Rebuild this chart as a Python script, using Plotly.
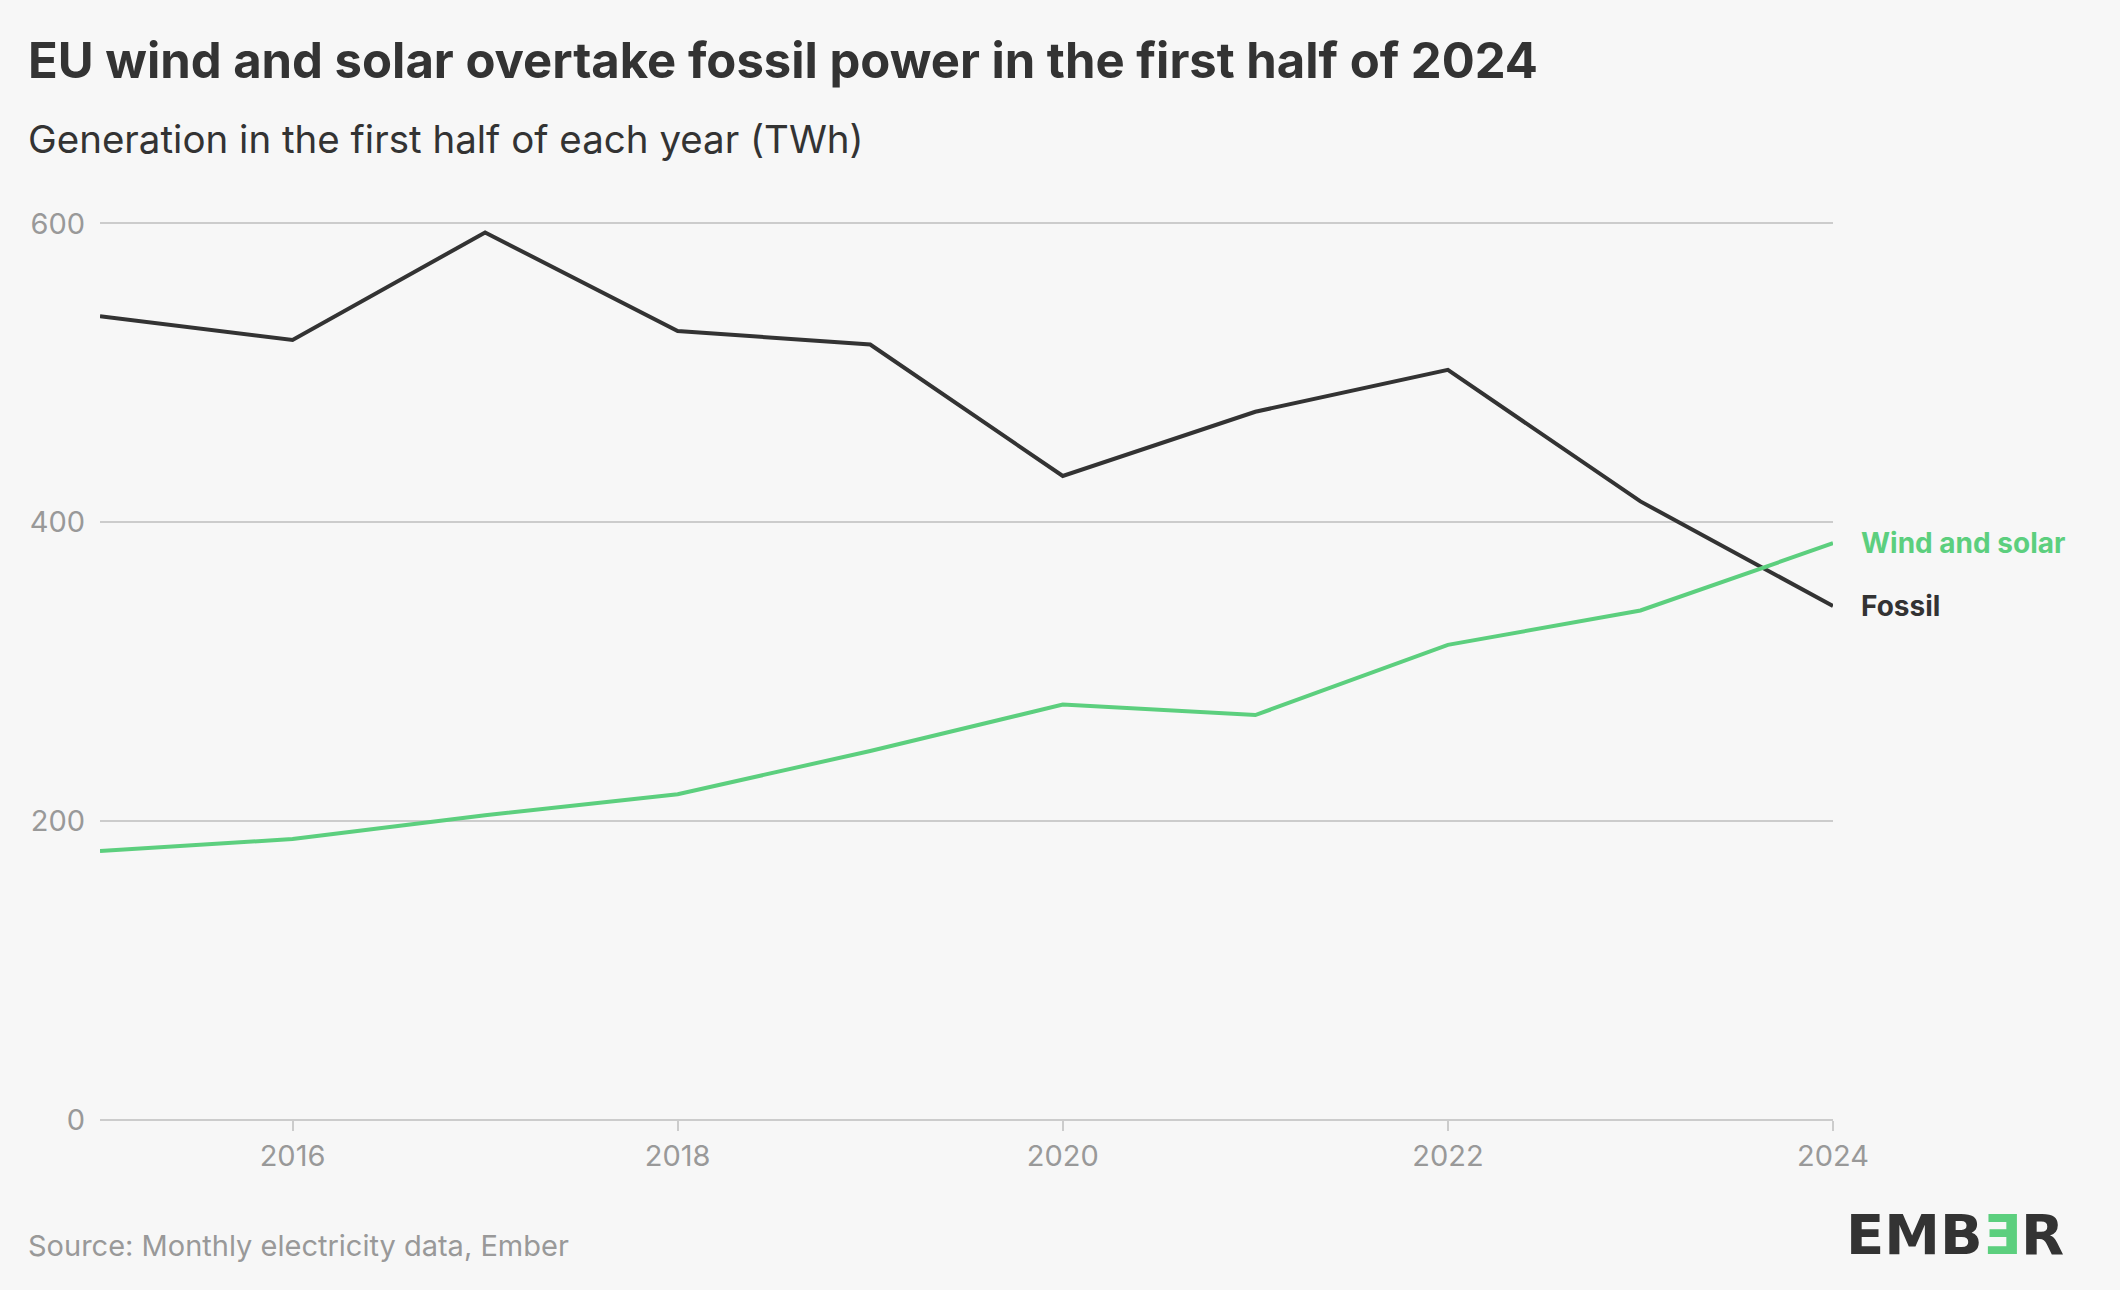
import plotly.graph_objects as go

years = [2015, 2016, 2017, 2018, 2019, 2020, 2021, 2022, 2023, 2024]
fossil = [538, 522, 594, 528, 519, 431, 474, 502, 414, 344]
wind_solar = [180, 188, 204, 218, 247, 278, 271, 318, 341, 386]
y_ticks = [0, 200, 400, 600]
x_ticks = [2016, 2018, 2020, 2022, 2024]

FOSSIL_C = "#333333"
GREEN_C = "#5ccf7e"
GRAY_T = "#999999"
BG = "#f7f7f7"
FONT = "Inter"

fig = go.Figure()
fig.add_trace(go.Scatter(x=years, y=fossil, mode="lines", name="Fossil",
                         line=dict(color=FOSSIL_C, width=4), hoverinfo="skip"))
fig.add_trace(go.Scatter(x=years, y=wind_solar, mode="lines", name="Wind and solar",
                         line=dict(color=GREEN_C, width=4), hoverinfo="skip"))

fig.update_layout(
    width=2120, height=1290,
    paper_bgcolor=BG, plot_bgcolor=BG,
    margin=dict(l=100, r=287, t=222, b=170),
    showlegend=False,
    font=dict(family=FONT, color=FOSSIL_C),
    xaxis=dict(range=[2015, 2024], tickvals=x_ticks, showgrid=False, zeroline=False,
               showline=False, ticks="outside", ticklen=10, tickwidth=2, tickcolor="#cccccc",
               tickfont=dict(size=29, color=GRAY_T, family=FONT)),
    yaxis=dict(range=[0, 601], tickvals=y_ticks, showgrid=True, gridcolor="#cccccc",
               gridwidth=2, zeroline=True, zerolinecolor="#cccccc", zerolinewidth=2,
               showline=False, ticks="", ticklabelstandoff=14,
               tickfont=dict(size=29, color=GRAY_T, family=FONT)),
)

fig.add_annotation(text="<b>EU wind and solar overtake fossil power in the first half of 2024</b>",
                   xref="paper", yref="paper", x=-100/1733, y=1 + (222 - 60) / 898,
                   xanchor="left", yanchor="middle", showarrow=False,
                   font=dict(size=49, color=FOSSIL_C, family=FONT), xshift=26)
fig.add_annotation(text="Generation in the first half of each year (TWh)",
                   xref="paper", yref="paper", x=-100/1733, y=1 + (222 - 139) / 898,
                   xanchor="left", yanchor="middle", showarrow=False,
                   font=dict(size=38.5, color=FOSSIL_C, family=FONT), xshift=26)
fig.add_annotation(text="Source: Monthly electricity data, Ember",
                   xref="paper", yref="paper", x=-100/1733, y=-(1245 - 1120) / 898,
                   xanchor="left", yanchor="middle", showarrow=False,
                   font=dict(size=29, color=GRAY_T, family=FONT), xshift=26)

fig.add_annotation(text="<b>Wind and solar</b>", x=years[-1], y=wind_solar[-1],
                   xref="x", yref="y", xanchor="left", yanchor="middle", showarrow=False,
                   xshift=26, font=dict(size=28, color=GREEN_C, family=FONT))
fig.add_annotation(text="<b>Fossil</b>", x=years[-1], y=fossil[-1],
                   xref="x", yref="y", xanchor="left", yanchor="middle", showarrow=False,
                   xshift=26, font=dict(size=28, color=FOSSIL_C, family=FONT))

fig.add_annotation(text="<b>EMB<span style='color:%s'>Ǝ</span>R</b>" % GREEN_C,
                   xref="paper", yref="paper", x=1 + (2066 - 1833) / 1733, y=-(1234 - 1120) / 898,
                   xanchor="right", yanchor="middle", showarrow=False,
                   font=dict(size=56, color=FOSSIL_C, family="DejaVu Sans"))

fig.write_html("out.html", config={"displayModeBar": False},
               post_script="document.body.style.margin='0';document.body.style.background='%s';" % BG)
